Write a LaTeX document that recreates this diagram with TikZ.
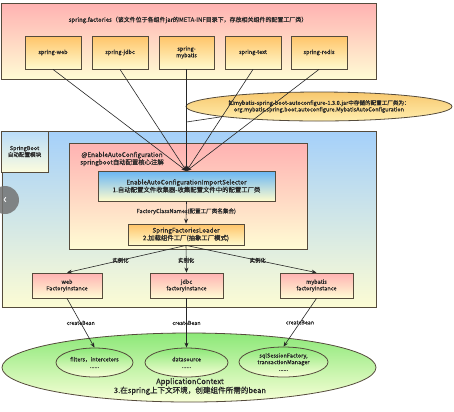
\documentclass[tikz,border=0pt]{standalone}
\usepackage{fontspec}
\setmainfont{Noto Sans CJK SC}[FakeBold=0.6,AutoFakeBold=0.6]
\usetikzlibrary{shapes.geometric,arrows.meta}
\definecolor{edge}{RGB}{85,75,60}
\definecolor{txt}{RGB}{40,40,40}
\tikzset{
  base/.style={draw=edge,line width=0.8pt,text=txt,align=center,inner sep=1pt},
  pinkgrad/.style={top color={rgb,255:red,255;green,178;blue,178},bottom color={rgb,255:red,255;green,252;blue,212}},
  orangegrad/.style={top color={rgb,255:red,255;green,196;blue,105},bottom color={rgb,255:red,255;green,250;blue,205}},
  bluegrad/.style={top color={rgb,255:red,165;green,208;blue,250},bottom color={rgb,255:red,252;green,252;blue,212}},
  paleblue/.style={top color={rgb,255:red,185;green,220;blue,250},bottom color={rgb,255:red,252;green,252;blue,222}},
  deepblue/.style={top color={rgb,255:red,105;green,182;blue,245},bottom color={rgb,255:red,255;green,252;blue,205}},
  greengrad/.style={top color={rgb,255:red,140;green,232;blue,120},bottom color={rgb,255:red,248;green,255;blue,215}},
  notegrad/.style={top color={rgb,255:red,248;green,200;blue,110},bottom color={rgb,255:red,255;green,238;blue,175}},
  small/.style={font=\fontsize{5.6}{6.6}\selectfont},
  lbl/.style={text=txt,font=\fontsize{5.4}{6}\selectfont,inner sep=1pt},
  conn/.style={draw=black!85,line width=0.6pt},
  arr/.style={conn,-{Stealth[length=5pt,width=4pt]}},
}
\begin{document}
\begin{tikzpicture}[x=1bp,y=1bp]
\useasboundingbox (0,0) rectangle (454,-411);
\fill[white] (0,0) rectangle (454,-411);
% top container
\node[base,pinkgrad,minimum width=375bp,minimum height=76bp] (factories) at (188.5,-41) {};
\node[lbl,font=\fontsize{6}{7}\selectfont] (ftitle) at (188,-20) {spring.factories（该文件位于各组件jar的META-INF目录下，存放相关组件的配置工厂类）};
\node[base,orangegrad,small,minimum width=56bp,minimum height=33bp] (sweb) at (53,-52.5) {spring-web};
\node[base,orangegrad,small,minimum width=56bp,minimum height=33bp] (sjdbc) at (120,-52.5) {spring-jdbc};
\node[base,orangegrad,small,minimum width=55bp,minimum height=33bp] (smyb) at (186.5,-52.5) {spring-\\mybatis};
\node[base,orangegrad,small,minimum width=56bp,minimum height=33bp] (stext) at (253,-52.5) {spring-text};
\node[base,orangegrad,small,minimum width=56bp,minimum height=33bp] (sredis) at (319,-52.5) {spring-redis};
% blue container
\node[base,bluegrad,minimum width=374bp,minimum height=176bp] (boot) at (189,-219) {};
\node[base,paleblue,small,minimum width=47bp,minimum height=41bp] (bootlbl) at (24.5,-151.5) {SpringBoot\\自动配置模块};
% red inner
\node[base,pinkgrad,minimum width=238bp,minimum height=106bp] (enable) at (188,-196) {};
\node[lbl,font=\fontsize{6.4}{7.6}\selectfont,align=center] (enabletitle) at (122,-159) {@EnableAutoConfiguration\\springboot自动配置核心注解};
\node[base,deepblue,font=\fontsize{6.4}{7.6}\selectfont,minimum width=177bp,minimum height=30bp] (selector) at (186.5,-186) {EnableAutoConfigurationImportSelector\\1.自动配置文件收集器-收集配置文件中的配置工厂类};
\node[base,orangegrad,font=\fontsize{6.4}{7.6}\selectfont,minimum width=116bp,minimum height=21bp] (loader) at (186,-234.5) {SpringFactoriesLoader\\2.加载组件工厂(抽象工厂模式)};
% instances
\node[base,pinkgrad,small,minimum width=70bp,minimum height=25bp] (iweb) at (67,-285.5) {web\\FactoryInstance};
\node[base,pinkgrad,small,minimum width=73bp,minimum height=25bp] (ijdbc) at (186.5,-285.5) {jdbc\\factoryInstance};
\node[base,pinkgrad,small,minimum width=73bp,minimum height=25bp] (imyb) at (316.5,-285.5) {mybatis\\factoryInstance};
% note ellipse
\node[base,notegrad,ellipse,font=\fontsize{5.6}{6.6}\selectfont,minimum width=266bp,minimum height=29bp,inner sep=0pt] (note) at (319,-106.5) {如mybatis-spring-boot-autoconfigure-1.3.0.jar中存储的配置工厂类为：\\org.mybatis.spring.boot.autoconfigure.MybatisAutoConfiguration};
% application context
\node[base,greengrad,ellipse,minimum width=374bp,minimum height=69bp] (ctx) at (189,-367.5) {};
\node[lbl,font=\fontsize{7.6}{9}\selectfont,align=center] (ctxlbl) at (190,-386.5) {ApplicationContext\\3.在spring上下文环境，创建组件所需的bean};
\node[base,greengrad,ellipse,small,minimum width=77bp,minimum height=29bp,inner sep=0pt] (filters) at (94.5,-362.5) {filters，intercetors\\......};
\node[base,greengrad,ellipse,small,minimum width=83bp,minimum height=29bp,inner sep=0pt] (ds) at (186.5,-362.5) {datasource\\......};
\node[base,greengrad,ellipse,small,minimum width=89bp,minimum height=30bp,inner sep=0pt] (sql) at (283.5,-362) {sqlSessionFactory,\\transactionManager\\......};
% connectors to selector
\coordinate (hub) at (186.5,-171);
\draw[arr] (sweb.south) -- (hub);
\draw[arr] (sjdbc.south) -- (hub);
\draw[arr] (smyb.south) -- (hub);
\draw[arr] (stext.south) -- (hub);
\draw[arr] (sredis.south) -- (hub);
\coordinate (notefoot) at (186.5,-122);
\draw[conn] (notefoot) -- (note.186);
% selector -> loader
\draw[arr] (selector.south) -- node[lbl,pos=0.45,font=\fontsize{5.6}{6.6}\selectfont] (fcn) {FactoryClassNames(配置工厂类名集合)} (loader.north);
% loader -> instances
\draw[arr] (loader.south) -- node[lbl,pos=0.55] (l1) {实例化} (iweb.north);
\draw[arr] (loader.south) -- node[lbl,pos=0.55] (l2) {实例化} (ijdbc.north);
\draw[arr] (loader.south) -- node[lbl,pos=0.55] (l3) {实例化} (imyb.north);
% createBean
\draw[arr] (iweb.south) -- node[lbl,pos=0.5] (c1) {createBean} (filters.north);
\draw[arr] (ijdbc.south) -- node[lbl,pos=0.5] (c2) {createBean} (ds.north);
\draw[arr] (imyb.south) -- node[lbl,pos=0.5] (c3) {createBean} (sql.north);
% browser artefact
\node[circle,fill=black!55,fill opacity=0.85,minimum size=28bp,inner sep=0pt,text=white,font=\fontsize{12}{12}\selectfont] (navbtn) at (5,-200) {‹};
\end{tikzpicture}
\end{document}
